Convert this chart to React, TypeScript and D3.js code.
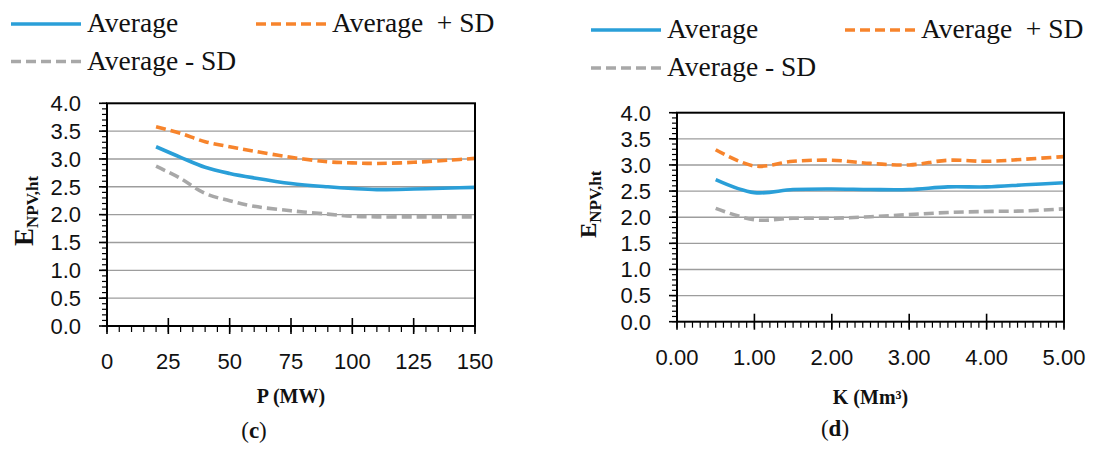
import React from 'react';
import * as d3 from 'd3';

// ---------- data ----------
const pValues = [20, 30, 40, 50, 60, 75, 90, 100, 110, 125, 140, 150];
const pAverage = [3.22, 3.03, 2.85, 2.74, 2.66, 2.56, 2.5, 2.47, 2.45, 2.46, 2.48, 2.49];
const pPlusSD = [3.58, 3.46, 3.31, 3.22, 3.14, 3.03, 2.95, 2.93, 2.92, 2.94, 2.98, 3.01];
const pMinusSD = [2.87, 2.65, 2.38, 2.25, 2.15, 2.07, 2.01, 1.97, 1.96, 1.96, 1.96, 1.96];

const kValues = [0.5, 1.0, 1.5, 2.0, 2.5, 3.0, 3.5, 4.0, 4.5, 5.0];
const kAverage = [2.72, 2.47, 2.53, 2.54, 2.53, 2.53, 2.58, 2.58, 2.62, 2.66];
const kPlusSD = [3.29, 2.98, 3.07, 3.09, 3.03, 3.0, 3.09, 3.07, 3.11, 3.16];
const kMinusSD = [2.17, 1.95, 1.98, 1.98, 2.01, 2.05, 2.09, 2.11, 2.12, 2.16];

const pTicks = [0, 25, 50, 75, 100, 125, 150];
const kTicks = [0, 1, 2, 3, 4, 5];
const yTicks = [0, 0.5, 1, 1.5, 2, 2.5, 3, 3.5, 4];

const seriesNames = ['Average', 'Average  + SD', 'Average - SD'];

const BLUE = '#2a9fd8';
const ORANGE = '#f7842c';
const GRAY = '#a8a8a8';
const SERIF = '"Liberation Serif", "DejaVu Serif", serif';
const SANS = '"Liberation Sans", "Open Sans", sans-serif';

type ChartProps = {
  xDomain: [number, number];
  xRange: [number, number];
  yRange: [number, number];
  xs: number[];
  series: number[][];
  majorX: number[];
  minorStep: number;
  fmt: (v: number) => string;
  xTitle: React.ReactNode;
  xTitleY: number;
  panel: string;
  panelX: number;
  panelY: number;
  yTitleX: number;
  yTitleY: number;
  yTitleSize: number;
};

function Chart(p: ChartProps) {
  const x = d3.scaleLinear().domain(p.xDomain).range(p.xRange);
  const y = d3.scaleLinear().domain([0, 4]).range(p.yRange);
  const [x0, x1] = p.xRange;
  const [yb, yt] = p.yRange;
  const colors = [BLUE, ORANGE, GRAY];
  const dashes = [undefined, '10 5', '10 5'];
  const line = d3
    .line<number>()
    .x((_, i) => x(p.xs[i]))
    .y((d) => y(d))
    .curve(d3.curveCatmullRom.alpha(0.5));
  const minorX = d3.range(p.xDomain[0], p.xDomain[1] + 1e-9, p.minorStep);
  const minorY = d3.range(0, 4 + 1e-9, 0.1);
  const xCenter = (x0 + x1) / 2;
  return (
    <g>
      {yTicks
        .filter((t) => t > 0 && t < 4)
        .map((t) => (
          <line key={'g' + t} x1={x0} x2={x1} y1={y(t)} y2={y(t)} stroke="#9d9d9d" strokeWidth={1.4} />
        ))}
      {p.series.map((s, i) => (
        <path
          key={'s' + i}
          d={line(s) || ''}
          fill="none"
          stroke={colors[i]}
          strokeWidth={3.6}
          strokeDasharray={dashes[i]}
        />
      ))}
      <rect x={x0} y={yt} width={x1 - x0} height={yb - yt} fill="none" stroke="#000" strokeWidth={2} />
      {minorY.map((t, i) => (
        <line key={'my' + i} x1={x0 - 5} x2={x0} y1={y(t)} y2={y(t)} stroke="#000" strokeWidth={1.2} />
      ))}
      {yTicks.map((t) => (
        <line key={'My' + t} x1={x0 - 8} x2={x0} y1={y(t)} y2={y(t)} stroke="#000" strokeWidth={1.6} />
      ))}
      {minorX.map((t, i) => (
        <line key={'mx' + i} x1={x(t)} x2={x(t)} y1={yb} y2={yb + 6} stroke="#000" strokeWidth={1.2} />
      ))}
      {p.majorX.map((t) => (
        <line key={'Mx' + t} x1={x(t)} x2={x(t)} y1={yb - 8} y2={yb + 8} stroke="#000" strokeWidth={1.6} />
      ))}
      {yTicks.map((t) => (
        <text
          key={'ly' + t}
          x={x0 - 26}
          y={y(t) + 7.8}
          textAnchor="end"
          fontFamily={SANS}
          fontSize={22}
          fill="#111"
        >
          {t.toFixed(1)}
        </text>
      ))}
      {p.majorX.map((t) => (
        <text
          key={'lx' + t}
          x={x(t)}
          y={yb + 43}
          textAnchor="middle"
          fontFamily={SANS}
          fontSize={22}
          fill="#111"
        >
          {p.fmt(t)}
        </text>
      ))}
      <text
        x={xCenter}
        y={p.xTitleY}
        textAnchor="middle"
        fontFamily={SERIF}
        fontWeight="bold"
        fontSize={20}
        fill="#111"
      >
        {p.xTitle}
      </text>
      <text
        x={p.panelX}
        y={p.panelY}
        textAnchor="middle"
        fontFamily={SERIF}
        fontSize={23}
        fill="#111"
      >
        (<tspan fontWeight="bold">{p.panel}</tspan>)
      </text>
      <text
        transform={`translate(${p.yTitleX},${p.yTitleY}) rotate(-90)`}
        fontFamily={SERIF}
        fontWeight="bold"
        fontSize={p.yTitleSize}
        fill="#111"
      >
        E
        <tspan dy={5} fontSize={17}>
          NPV,ht
        </tspan>
      </text>
    </g>
  );
}

function Legend({ x, y, x2, gap, size }: { x: number; y: number; x2: number; gap: number; size: number }) {
  const colors = [BLUE, ORANGE, GRAY];
  const dashes = [undefined, '10 5', '10 5'];
  const pos = [
    [x, y],
    [x2, y],
    [x, y + gap],
  ];
  return (
    <g>
      {seriesNames.map((n, i) => (
        <g key={n}>
          <line
            x1={pos[i][0]}
            x2={pos[i][0] + 70}
            y1={pos[i][1]}
            y2={pos[i][1]}
            stroke={colors[i]}
            strokeWidth={3.6}
            strokeDasharray={dashes[i]}
          />
          <text
            x={pos[i][0] + 76}
            y={pos[i][1] + 8}
            fontFamily={SERIF}
            fontSize={size}
            fill="#111"
            style={{ whiteSpace: 'pre' }}
          >
            {n}
          </text>
        </g>
      ))}
    </g>
  );
}

export default function App() {
  return (
    <svg
      width={1094}
      height={450}
      style={{ position: 'absolute', left: 0, top: 0, background: '#fff' }}
    >
      <rect width={1094} height={450} fill="#fff" />
      <Legend x={11} y={24} x2={256} gap={37.5} size={27.5} />
      <Legend x={591} y={30} x2={845} gap={38} size={27.5} />
      <Chart
        xDomain={[0, 150]}
        xRange={[107, 475]}
        yRange={[326, 103.3]}
        xs={pValues}
        series={[pAverage, pPlusSD, pMinusSD]}
        majorX={pTicks}
        minorStep={5}
        fmt={(v) => String(v)}
        xTitle="P (MW)"
        xTitleY={403}
        panel="c"
        panelX={254}
        panelY={438}
        yTitleX={33}
        yTitleY={246}
        yTitleSize={27}
      />
      <Chart
        xDomain={[0, 5]}
        xRange={[677, 1064]}
        yRange={[321.7, 112.7]}
        xs={kValues}
        series={[kAverage, kPlusSD, kMinusSD]}
        majorX={kTicks}
        minorStep={0.1}
        fmt={(v) => v.toFixed(2)}
        xTitle="K (Mm³)"
        xTitleY={404}
        panel="d"
        panelX={835}
        panelY={436}
        yTitleX={596}
        yTitleY={238}
        yTitleSize={23}
      />
    </svg>
  );
}
